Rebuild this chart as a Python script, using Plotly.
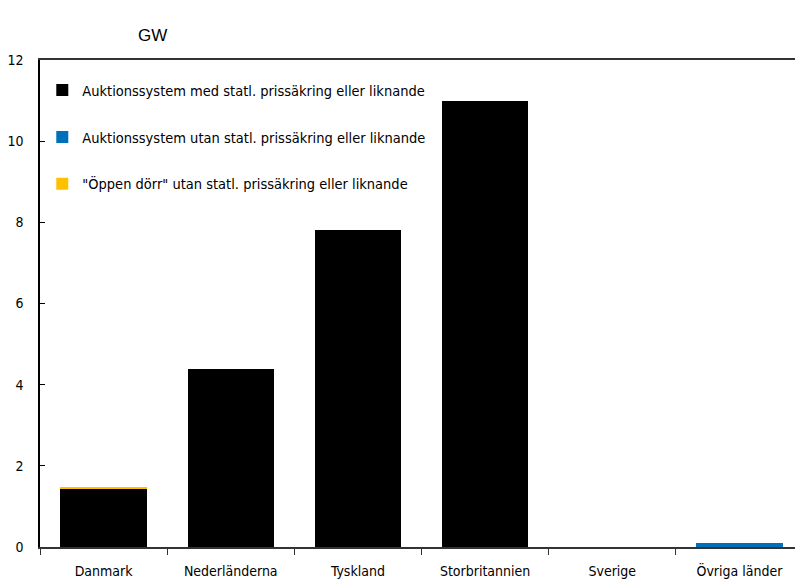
import plotly.graph_objects as go

categories = ["Danmark", "Nederländerna", "Tyskland", "Storbritannien", "Sverige", "Övriga länder"]
auktion_med = [1.43, 4.38, 7.81, 10.99, 0, 0]
auktion_utan = [0, 0, 0, 0, 0, 0.09]
oppen_dorr = [0.03, 0, 0, 0, 0, 0]

series_names = [
    "Auktionssystem med statl. prissäkring eller liknande",
    "Auktionssystem utan statl. prissäkring eller liknande",
    "\"Öppen dörr\" utan statl. prissäkring eller liknande",
]
colors = ["#000000", "#0070BA", "#FFC000"]
y_ticks = [0, 2, 4, 6, 8, 10, 12]

font_c = "DejaVu Sans Condensed, Roboto Condensed, Liberation Sans Narrow, Roboto, sans-serif"

fig = go.Figure()
for i, (name, vals) in enumerate(zip(series_names, [auktion_med, auktion_utan, oppen_dorr])):
    fig.add_trace(go.Bar(
        x=categories, y=vals, name=name, marker_color=colors[i],
        marker_line_width=0, width=0.68, legendgroup=f"g{i}",
    ))

fig.update_layout(
    width=795, height=572,
    margin=dict(l=32, r=0, t=52, b=33),
    paper_bgcolor="white", plot_bgcolor="white",
    barmode="stack",
    showlegend=True,
    legend=dict(
        x=0.003, y=0.971, xanchor="left", yanchor="top",
        font=dict(family=font_c, size=14.5, color="black"),
        tracegroupgap=25, itemwidth=30, bgcolor="rgba(0,0,0,0)",
        traceorder="grouped",
    ),
    font=dict(family=font_c, size=14, color="black"),
    annotations=[dict(
        text="GW", xref="paper", yref="paper", x=0.148, y=1.051,
        xanchor="center", yanchor="middle", showarrow=False,
        font=dict(family="Liberation Sans, Arial, sans-serif", size=17, color="black"),
    )],
)
fig.update_xaxes(
    showline=True, linecolor="#333333", linewidth=2, mirror=True,
    ticks="outside", ticklen=6, tickcolor="#333333", tickson="boundaries",
    ticklabelstandoff=10,
    showgrid=False, tickfont=dict(family=font_c, size=14, color="black"),
)
fig.update_yaxes(
    range=[0, 12], tickvals=y_ticks, showline=True, linecolor="black", linewidth=1.5,
    ticks="inside", ticklen=5, tickcolor="black", showgrid=False, zeroline=False,
    ticklabelstandoff=12, tickfont=dict(family=font_c, size=14, color="black"),
)

fig.write_html("out.html")
